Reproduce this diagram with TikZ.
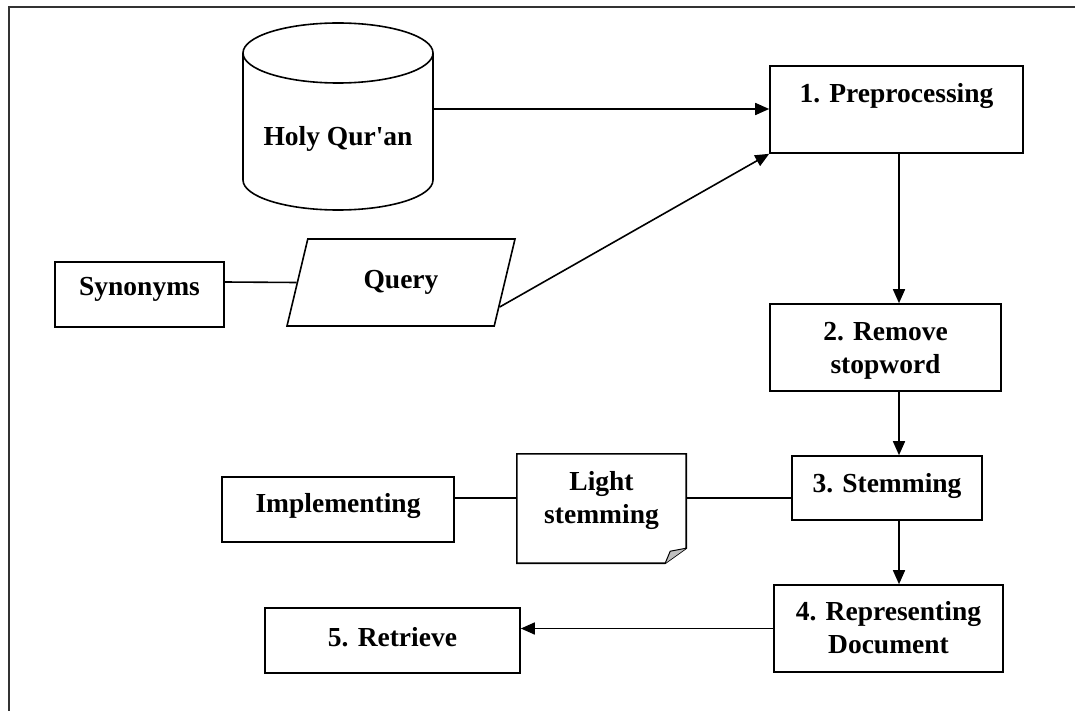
\documentclass[tikz,border=0pt]{standalone}
\usepackage{fontspec}
\setmainfont{Liberation Serif}
\usetikzlibrary{arrows.meta,shapes.geometric}
\tikzset{
  stepbox/.style={draw, rectangle, line width=1.6pt, inner ysep=0pt, align=center},
  notebox/.style={rectangle, inner ysep=0pt, align=center},
  link/.style={line width=1.6pt},
  flow/.style={link, -{Triangle[length=14pt,width=12pt]}},
}
\begin{document}
\begin{tikzpicture}[x=1pt,y=-1pt,font=\fontsize{27.5}{33}\selectfont\bfseries]
\useasboundingbox (0,0) rectangle (1075,711);
% ------ cadre -----------------------------
\draw[line width=2.2pt, black!80] (9,711) -- (9,7) -- (1075,7);
% ------ la base : cylindre ----------------
\draw[link] (243,53) -- (243,180) arc[start angle=180, end angle=0, x radius=95, y radius=30] -- (433,53);
\draw[link] (338,53) ellipse [x radius=95, y radius=30];
\node (quran) at (338,139) {Holy Qur\textquotesingle an};
\coordinate (quranout) at (433,109);
% ------ les etapes ------------------------
\node[stepbox, minimum width=253pt, minimum height=87pt, text height=37pt, text depth=50pt] (pre) at (896.5,109.5) {1. Preprocessing};
\node[stepbox, minimum width=231pt, minimum height=87pt, text height=69pt, text depth=18pt] (stop) at (885.5,347.5) {2. Remove\\stopword};
\node[stepbox, minimum width=190pt, minimum height=64pt, text height=36pt, text depth=28pt] (stem) at (887,488) {3. Stemming};
\node[stepbox, minimum width=229pt, minimum height=87pt, text height=68pt, text depth=19pt] (rep) at (888.5,628.5) {4. Representing\\Document};
\node[stepbox, minimum width=255pt, minimum height=65pt, text height=38pt, text depth=27pt] (ret) at (392.5,640.5) {5. Retrieve};
\node[stepbox, minimum width=169pt, minimum height=65pt, text height=33pt, text depth=32pt] (syn) at (139.5,294.5) {Synonyms};
\node[stepbox, minimum width=232pt, minimum height=65pt, text height=35pt, text depth=30pt] (impl) at (338,509.5) {Implementing};
\node[draw, line width=1.6pt, trapezium, trapezium left angle=56, trapezium right angle=124,
      trapezium stretches body=true, minimum width=228pt, minimum height=87pt] (qry) at (401,282.5) {Query};
% ------ la note pliee ---------------------
\node[notebox, minimum width=169pt, minimum height=109pt, text height=69pt, text depth=40pt] (light) at (601.5,508.5) {Light\\stemming};
\draw[link] (light.north west) -- (light.north east) -- ([yshift=15pt]light.south east)
  -- ([xshift=-21pt]light.south east) -- (light.south west) -- cycle;
\draw[line width=1pt, fill=black!25] ([xshift=-21pt]light.south east) -- ([xshift=-16pt,yshift=12pt]light.south east)
  -- ([yshift=15pt]light.south east);
% ------ liaisons --------------------------
\coordinate (spine) at (899,0);
\coordinate (synrow) at (0,282);
\coordinate (stemrow) at (0,498);
\draw[flow] (quranout) -- (quranout -| pre.west);
\draw[flow] (qry.-14) -- (pre.south west);
\draw[flow] (pre.south -| spine) -- (stop.north -| spine);
\draw[flow] (stop.south -| spine) -- (stem.north -| spine);
\draw[flow] (stem.south -| spine) -- (rep.north -| spine);
\draw[flow] (rep.west) -- (rep.west -| ret.east);
\draw[link] (syn.east |- synrow) -- (qry.180);
\draw[link] (impl.east |- stemrow) -- (light.west |- stemrow);
\draw[link] (light.east |- stemrow) -- (stem.west |- stemrow);
\end{tikzpicture}
\end{document}
